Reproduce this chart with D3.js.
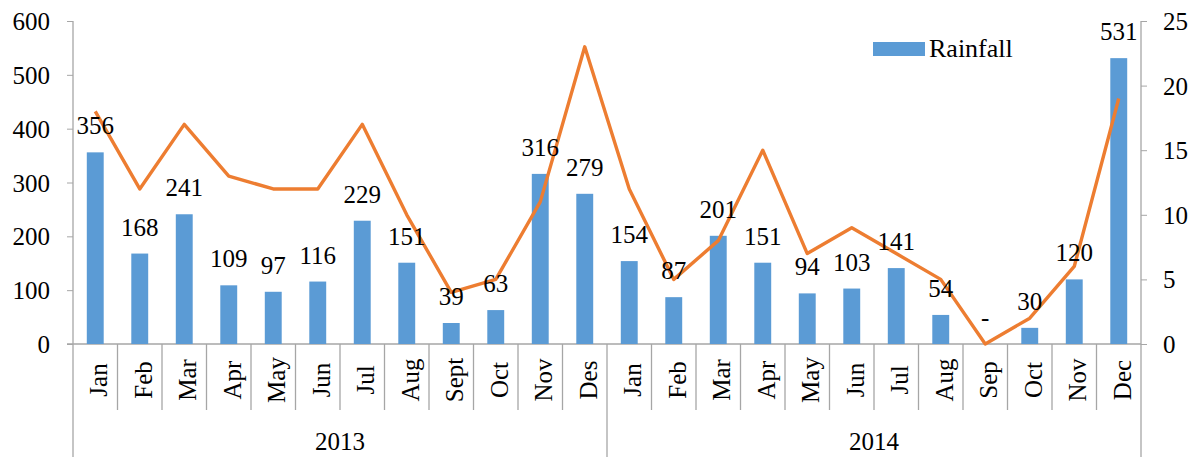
<!DOCTYPE html>
<html>
<head>
<meta charset="utf-8">
<script src="https://cdn.jsdelivr.net/npm/d3@7"></script>
<style>
  body { margin: 0; background: #fff; }
  text { font-family: "Liberation Serif", "Times New Roman", serif; fill: #000; }
</style>
</head>
<body>
<div id="chart"></div>
<script>
// Data
const years = ["2013", "2014"];
const months2013 = ["Jan", "Feb", "Mar", "Apr", "May", "Jun", "Jul", "Aug", "Sept", "Oct", "Nov", "Des"];
const months2014 = ["Jan", "Feb", "Mar", "Apr", "May", "Jun", "Jul", "Aug", "Sep", "Oct", "Nov", "Dec"];
const rainfall2013 = [356, 168, 241, 109, 97, 116, 229, 151, 39, 63, 316, 279];
const rainfall2014 = [154, 87, 201, 151, 94, 103, 141, 54, 0, 30, 120, 531];
const rainDays2013 = [18, 12, 17, 13, 12, 12, 17, 10, 4, 5, 11, 23];
const rainDays2014 = [12, 5, 8, 15, 7, 9, 7, 5, 0, 2, 6, 19];
const leftTicks = [0, 100, 200, 300, 400, 500, 600];
const rightTicks = [0, 5, 10, 15, 20, 25];

// Build one flat table for the scales
const rows = [];
months2013.forEach((m, i) => rows.push({ key: "2013-" + i, year: "2013", month: m, rain: rainfall2013[i], days: rainDays2013[i] }));
months2014.forEach((m, i) => rows.push({ key: "2014-" + i, year: "2014", month: m, rain: rainfall2014[i], days: rainDays2014[i] }));

const width = 1199, height = 457;
const plot = { left: 73, right: 1141, top: 21, bottom: 344 };
const fontSize = "25px";

const svg = d3.select("#chart")
    .append("svg")
    .attr("width", width)
    .attr("height", height);

const x = d3.scaleBand()
    .domain(rows.map(d => d.key))
    .range([plot.left, plot.right])
    .paddingInner(0.62)
    .paddingOuter(0.31);

const y = d3.scaleLinear()
    .domain([0, 600])
    .range([plot.bottom, plot.top]);

const y2 = d3.scaleLinear()
    .domain([0, 25])
    .range([plot.bottom, plot.top]);

const axisColor = "#a6a6a6";

// Left axis
const gLeft = svg.append("g")
    .attr("transform", `translate(${plot.left},0)`)
    .call(d3.axisLeft(y).tickValues(leftTicks).tickSize(6).tickPadding(17));
gLeft.select(".domain").remove();
gLeft.selectAll("line").attr("stroke", axisColor);
gLeft.selectAll("text").style("font-size", fontSize).attr("dy", "0.34em");

// Right axis
const gRight = svg.append("g")
    .attr("transform", `translate(${plot.right},0)`)
    .call(d3.axisRight(y2).tickValues(rightTicks).tickSize(6).tickPadding(16));
gRight.select(".domain").remove();
gRight.selectAll("line").attr("stroke", axisColor);
gRight.selectAll("text").style("font-size", fontSize).attr("dy", "0.34em");

// Axis lines
svg.append("line").attr("x1", plot.left).attr("x2", plot.left).attr("y1", plot.top).attr("y2", height)
    .attr("stroke", axisColor).attr("stroke-width", 1.3);
svg.append("line").attr("x1", plot.right).attr("x2", plot.right).attr("y1", plot.top).attr("y2", height)
    .attr("stroke", axisColor).attr("stroke-width", 1.3);
svg.append("line").attr("x1", plot.left - 6).attr("x2", plot.right).attr("y1", plot.bottom).attr("y2", plot.bottom)
    .attr("stroke", axisColor).attr("stroke-width", 1.3);

// Month dividers and year dividers
const step = x.step();
const edges = d3.range(1, rows.length).map(i => x(rows[i].key) - step * x.paddingInner() / 2);
svg.append("g").selectAll("line")
    .data(edges)
    .enter()
    .append("line")
    .attr("x1", d => d).attr("x2", d => d)
    .attr("y1", plot.bottom)
    .attr("y2", (d, i) => (i + 1) % 12 === 0 ? height : 410)
    .attr("stroke", axisColor)
    .attr("stroke-width", 1.3);

// Bars
svg.append("g")
    .selectAll("rect")
    .data(rows)
    .enter()
    .append("rect")
    .attr("x", d => x(d.key))
    .attr("y", d => y(d.rain))
    .attr("width", x.bandwidth())
    .attr("height", d => plot.bottom - y(d.rain))
    .attr("fill", "#5b9bd5");

// Line
const line = d3.line()
    .x(d => x(d.key) + x.bandwidth() / 2)
    .y(d => y2(d.days));
svg.append("path")
    .datum(rows)
    .attr("d", line)
    .attr("fill", "none")
    .attr("stroke", "#ed7d31")
    .attr("stroke-width", 3.4)
    .attr("stroke-linejoin", "round");

// Bar value labels
svg.append("g")
    .selectAll("text")
    .data(rows)
    .enter()
    .append("text")
    .attr("x", d => x(d.key) + x.bandwidth() / 2)
    .attr("y", d => y(d.rain) - 18)
    .attr("text-anchor", "middle")
    .style("font-size", fontSize)
    .text(d => d.rain === 0 ? "-" : d.rain);

// Month labels (rotated)
svg.append("g")
    .selectAll("text")
    .data(rows)
    .enter()
    .append("text")
    .attr("transform", d => `translate(${x(d.key) + x.bandwidth() / 2 + 12},380) rotate(-90)`)
    .attr("text-anchor", "middle")
    .style("font-size", fontSize)
    .text(d => d.month);

// Year labels
svg.append("g")
    .selectAll("text")
    .data(years)
    .enter()
    .append("text")
    .attr("x", (d, i) => plot.left + (plot.right - plot.left) / 4 + i * (plot.right - plot.left) / 2)
    .attr("y", 450)
    .attr("text-anchor", "middle")
    .style("font-size", fontSize)
    .text(d => d);

// Legend
svg.append("rect")
    .attr("x", 873).attr("y", 42)
    .attr("width", 52).attr("height", 14)
    .attr("fill", "#5b9bd5");
svg.append("text")
    .attr("x", 929).attr("y", 57)
    .style("font-size", "26px")
    .text("Rainfall");
</script>
</body>
</html>
